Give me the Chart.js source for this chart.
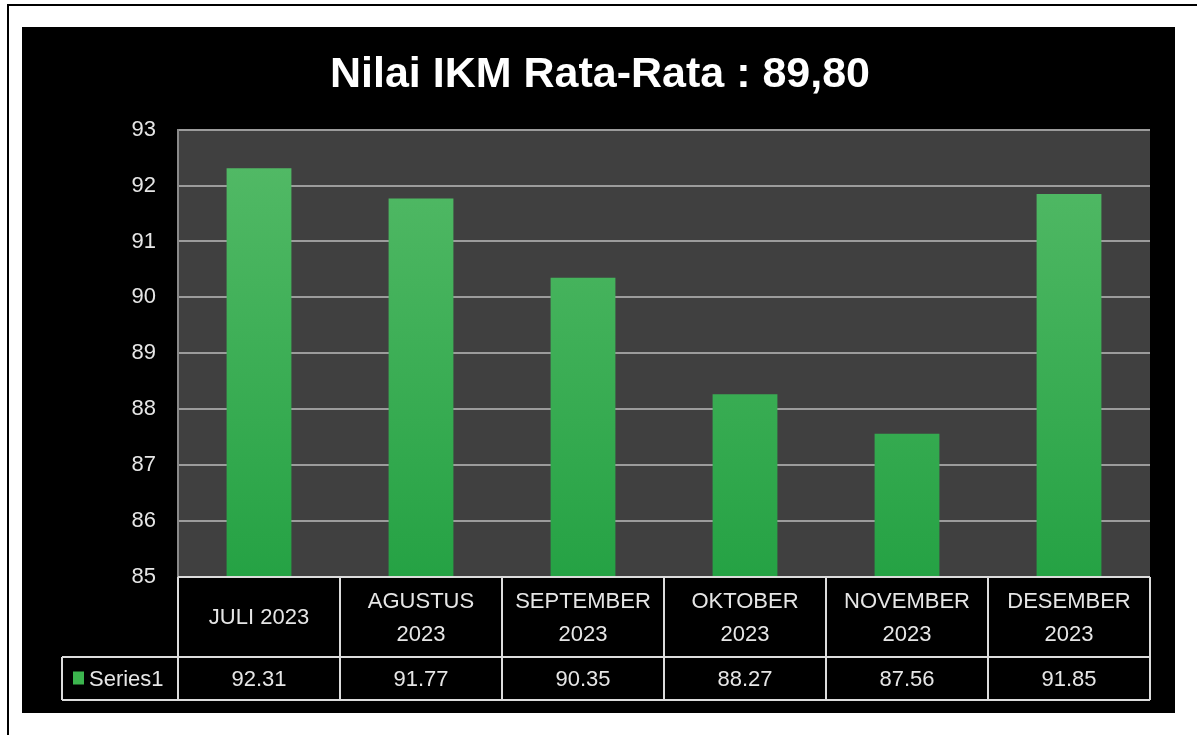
<!DOCTYPE html>
<html>
<head>
<meta charset="utf-8">
<title>Nilai IKM</title>
<script src="https://cdn.jsdelivr.net/npm/chart.js@4"></script>
<style>
  body {
    margin: 0;
    background: #fff;
  }
  #frame {
    position: absolute;
    left: 7px;
    top: 4px;
    width: 1190px;
    height: 731px;
    border-left: 2px solid #000;
    border-top: 2px solid #000;
  }
  #panel {
    position: absolute;
    left: 22px;
    top: 27px;
    width: 1153px;
    height: 686px;
    background: #000;
  }
</style>
</head>
<body>
<div id="frame"></div>
<div id="panel">
  <canvas id="ikm-chart" width="1153" height="686"></canvas>
</div>

<script>
// =========
// Data
// =========
const months = [
  ['JULI 2023'],
  ['AGUSTUS', '2023'],
  ['SEPTEMBER', '2023'],
  ['OKTOBER', '2023'],
  ['NOVEMBER', '2023'],
  ['DESEMBER', '2023'],
];
const series1 = [92.31, 91.77, 90.35, 88.27, 87.56, 91.85];
const seriesName = 'Series1';
const yTicks = [85, 86, 87, 88, 89, 90, 91, 92, 93];

const fontFamily = '"Liberation Sans", Arial, sans-serif';
const textColor = '#e6e6e6';

//  Plot background + data table under the bars
//  -------------------------------------------
const plotBackground = {
  id: 'plotBackground',
  beforeDraw(chart) {
    const {ctx, chartArea: a} = chart;
    ctx.save();
    ctx.fillStyle = '#404040';
    ctx.fillRect(a.left, a.top, a.right - a.left, a.bottom - a.top);
    ctx.restore();
  },
};

const dataTable = {
  id: 'dataTable',
  afterDraw(chart) {
    const {ctx, chartArea: a} = chart;
    const x = chart.scales.x;
    const rowTop = a.bottom;
    const rowMid = a.bottom + 80;
    const rowEnd = a.bottom + 123;
    const legendLeft = 40;
    const colW = (a.right - a.left) / months.length;

    ctx.save();
    ctx.strokeStyle = '#dcdcdc';
    ctx.lineWidth = 2;
    ctx.beginPath();
    ctx.moveTo(a.left, rowTop);
    ctx.lineTo(a.right, rowTop);
    ctx.moveTo(legendLeft, rowMid);
    ctx.lineTo(a.right, rowMid);
    ctx.moveTo(legendLeft, rowEnd);
    ctx.lineTo(a.right, rowEnd);
    ctx.moveTo(legendLeft, rowMid);
    ctx.lineTo(legendLeft, rowEnd);
    for (let i = 0; i <= months.length; i++) {
      const lx = a.left + i * colW;
      ctx.moveTo(lx, rowTop);
      ctx.lineTo(lx, rowEnd);
    }
    ctx.stroke();

    ctx.fillStyle = textColor;
    ctx.font = '22px ' + fontFamily;
    ctx.textAlign = 'center';
    ctx.textBaseline = 'middle';
    months.forEach((lines, i) => {
      const cx = x.getPixelForValue(i);
      const cy = (rowTop + rowMid) / 2 + 1;
      const lh = 33;
      lines.forEach((t, j) => {
        ctx.fillText(t, cx, cy + (j - (lines.length - 1) / 2) * lh);
      });
      ctx.fillText(series1[i].toFixed(2), cx, (rowMid + rowEnd) / 2 + 1);
    });

    // legend key
    const ky = (rowMid + rowEnd) / 2;
    ctx.fillStyle = '#3cb54e';
    ctx.fillRect(legendLeft + 11, ky - 7, 11, 13);
    ctx.fillStyle = textColor;
    ctx.textAlign = 'left';
    ctx.fillText(seriesName, legendLeft + 27, ky + 1);
    ctx.restore();
  },
};

// =========
// Chart
// =========
const barGradient = (context) => {
  const a = context.chart.chartArea;
  if (!a) return '#3cb54e';
  const g = context.chart.ctx.createLinearGradient(0, a.top, 0, a.bottom);
  g.addColorStop(0, '#55bb68');
  g.addColorStop(1, '#25a244');
  return g;
};

new Chart(document.getElementById('ikm-chart'), {
  type: 'bar',
  data: {
    labels: months,
    datasets: [
      {
        label: seriesName,
        data: series1,
        backgroundColor: barGradient,
        borderWidth: 0,
        categoryPercentage: 1,
        barPercentage: 0.4,
      },
    ],
  },
  options: {
    responsive: false,
    animation: false,
    layout: {
      padding: {top: 22, right: 25, bottom: 136, left: 28},
    },
    scales: {
      x: {
        display: false,
      },
      y: {
        min: yTicks[0],
        max: yTicks[yTicks.length - 1],
        afterFit: (scale) => { scale.width = 128; },
        afterBuildTicks: (scale) => {
          scale.ticks = yTicks.map((v) => ({value: v}));
        },
        ticks: {
          color: textColor,
          padding: 22,
          font: {family: fontFamily, size: 22},
        },
        grid: {
          color: '#9c9c9c',
          lineWidth: 2,
          drawTicks: false,
        },
        border: {color: '#8a8a8a', width: 2},
      },
    },
    plugins: {
      legend: {display: false},
      tooltip: {enabled: false},
      title: {
        display: true,
        text: 'Nilai IKM Rata-Rata : 89,80',
        color: '#ffffff',
        font: {family: fontFamily, size: 43, weight: 'bold'},
        padding: {top: 0, bottom: 29},
      },
    },
  },
  plugins: [plotBackground, dataTable],
});
</script>
</body>
</html>
